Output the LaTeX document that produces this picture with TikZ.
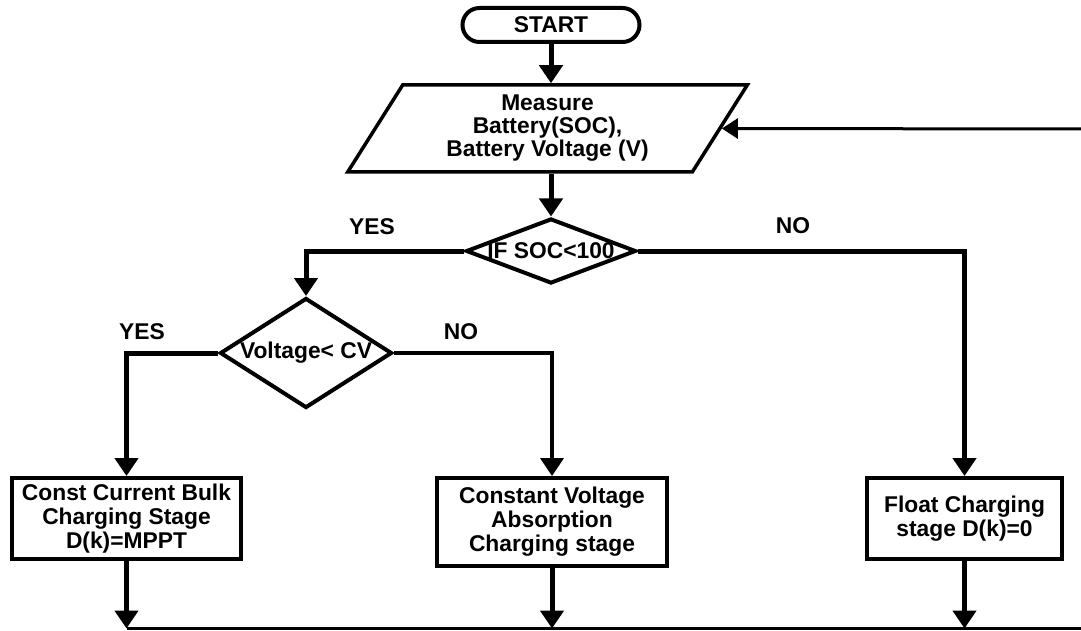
\documentclass[tikz,border=0pt]{standalone}
\usepackage{fontspec}
\setmainfont{Liberation Sans}
\usetikzlibrary{shapes.geometric,arrows.meta}
\begin{document}
\begin{tikzpicture}[x=1pt,y=-1pt,
  every node/.style={font=\bfseries\fontsize{22.8}{24}\selectfont},
  terminal/.style={draw,line width=4pt,rounded corners=17pt,minimum width=177pt,minimum height=34pt,inner sep=0pt},
  iobox/.style={draw,line width=3.5pt,shape=trapezium,trapezium left angle=60,trapezium right angle=120,trapezium stretches=true,minimum width=401pt,minimum height=87pt,inner sep=0pt,align=center,font=\bfseries\fontsize{22.8}{23}\selectfont},
  decision/.style={draw,line width=4pt,shape=diamond,inner sep=0pt},
  stagebox/.style={draw,line width=4pt,inner sep=0pt,align=center},
  lbl/.style={inner sep=0pt},
  flow/.style={line width=5pt,-{Triangle[length=18pt,width=23pt]}},
  thinflow/.style={line width=4pt,-{Triangle[length=18pt,width=23pt]}},
  busline/.style={line width=3pt},
  retflow/.style={line width=3pt,-{Triangle[length=16pt,width=20pt]}}
]
\useasboundingbox (0,0) rectangle (1081,631);

\node[terminal] (start) at (551,25) {START};
\node[iobox] (para) at (547.5,128.5) {Measure\\Battery(SOC),\\Battery Voltage (V)};
\node[decision,minimum width=170pt,minimum height=65pt,label={center:IF SOC<100}] (d1) at (551,251) {};
\node[decision,minimum width=172pt,minimum height=110pt,label={center:Voltage< CV}] (d2) at (306,353) {};

\node[stagebox,minimum width=229pt,minimum height=81pt] (b1) at (126.5,518.5) {Const Current Bulk\\Charging Stage\\D(k)=MPPT};
\node[stagebox,minimum width=230pt,minimum height=88pt] (b2) at (552,522) {Constant Voltage\\Absorption\\Charging stage};
\node[stagebox,minimum width=195pt,minimum height=81pt] (b3) at (964.5,518.5) {Float Charging\\stage D(k)=0};

\node[lbl] (yes1) at (372,227) {YES};
\node[lbl] (no1) at (793,226) {NO};
\node[lbl] (yes2) at (142,332) {YES};
\node[lbl] (no2) at (461,332) {NO};

\coordinate (bl) at (126.5,628.5);
\coordinate (br) at (1081,628.5);
\coordinate (rr) at (1081,129);

\draw[flow] (start.south) -- (start.south |- para.north);
\draw[flow] (d1.north |- para.south) -- (d1.north);
\draw[flow] (d1.west) -| (d2.north);
\draw[flow] (d1.east) -| (b3.north);
\draw[flow] (d2.west) -| (b1.north);
\draw[thinflow] (d2.east) -| (b2.north);

\draw[flow] (b1.south) -- (b1.south |- bl);
\draw[flow] (b2.south) -- (b2.south |- bl);
\draw[flow] (b3.south) -- (b3.south |- bl);
\draw[busline] (bl) -- (br);
\draw[retflow] (rr) -- (para.east);
\end{tikzpicture}
\end{document}
